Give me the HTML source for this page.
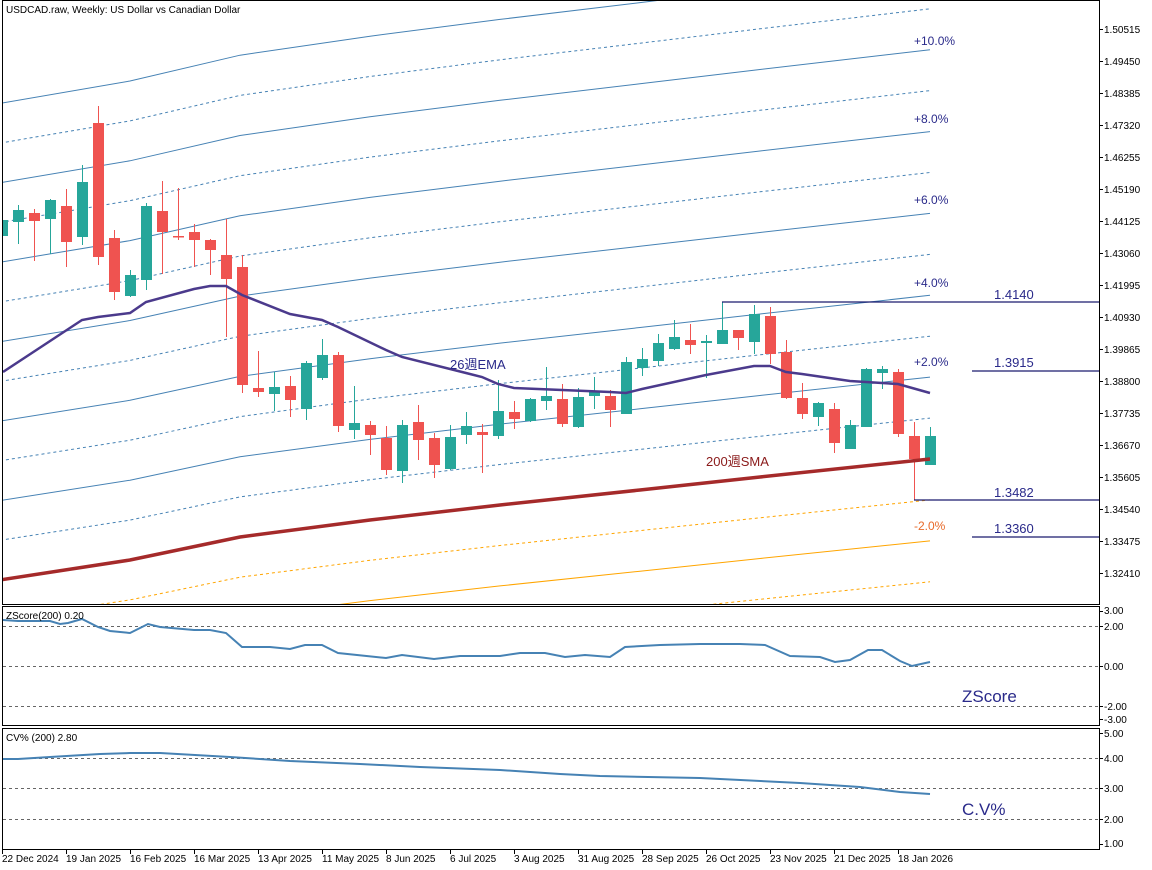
<!DOCTYPE html>
<html><head><meta charset="utf-8"><style>
html,body{margin:0;padding:0;background:#fff;}
svg{display:block;font-family:"Liberation Sans","Noto Sans CJK JP",sans-serif;}
</style></head><body>
<svg width="1152" height="870" xmlns="http://www.w3.org/2000/svg">
<defs><clipPath id="c"><rect x="3" y="1" width="1096" height="603"/></clipPath></defs>
<rect width="1152" height="870" fill="#fff"/>
<g clip-path="url(#c)" fill="none" stroke-width="1">
<g stroke="#4682b4">
<polyline points="0,540.3 130,520.1 240,496.9 370,479.7 500,464.5 640,449.4 760,436.3 930,418.1" stroke-dasharray="3,3"/>
<polyline points="0,500.6 130,480.2 240,456.7 370,439.4 500,424.1 640,408.8 760,395.5 930,377.1"/>
<polyline points="0,460.8 130,440.2 240,416.6 370,399 500,383.6 640,368.1 760,354.8 930,336.2" stroke-dasharray="3,3"/>
<polyline points="0,421.1 130,400.3 240,376.4 370,358.7 500,343.1 640,327.5 760,314 930,295.3"/>
<polyline points="0,381.4 130,360.4 240,336.3 370,318.4 500,302.7 640,286.9 760,273.3 930,254.4" stroke-dasharray="3,3"/>
<polyline points="0,341.7 130,320.5 240,296.1 370,278.1 500,262.2 640,246.3 760,232.5 930,213.4"/>
<polyline points="0,302 130,280.6 240,256 370,237.8 500,221.7 640,205.7 760,191.8 930,172.5" stroke-dasharray="3,3"/>
<polyline points="0,262.2 130,240.6 240,215.8 370,197.4 500,181.2 640,165 760,151 930,131.6"/>
<polyline points="0,222.5 130,200.7 240,175.7 370,157.1 500,140.8 640,124.4 760,110.3 930,90.6" stroke-dasharray="3,3"/>
<polyline points="0,182.8 130,160.8 240,135.5 370,116.8 500,100.3 640,83.8 760,69.5 930,49.7"/>
<polyline points="0,143.1 130,120.9 240,95.4 370,76.5 500,59.8 640,43.2 760,28.8 930,8.8" stroke-dasharray="3,3"/>
<polyline points="0,103.4 130,81 240,55.2 370,36.2 500,19.4 640,2.6 760,-12 930,-32"/>
</g>
<g stroke="#ffa500">
<polyline points="0,619.7 130,599.9 240,577.2 370,560.3 500,545.5 640,530.6 760,517.8 930,499.9" stroke-dasharray="3,3"/>
<polyline points="0,659 130,639.8 240,617.3 370,600.6 500,585.9 640,571.2 760,558.5 930,540.9"/>
<polyline points="0,699 130,679.8 240,657.5 370,641 500,626.4 640,611.9 760,599.3 930,581.8" stroke-dasharray="3,3"/>
</g>
</g>
<g clip-path="url(#c)">
<path stroke="#26a69a" stroke-width="1" fill="none" d="M18.5 205V244M50.5 199V254M82.5 165V245M130.5 270V297M146.5 203V290M274.5 372V411M306.5 361V420M322.5 339V380M354.5 386V439M402.5 420V483M450.5 425V470M466.5 412V444M498.5 380V439M530.5 398V422M546.5 367V410M578.5 388V428M594.5 377V409M626.5 357V414M642.5 348V376M658.5 334V366M674.5 320V350M706.5 335V378M722.5 302V344M754.5 305V354M818.5 402V426M850.5 420V449M866.5 368V427M882.5 366V389M930.5 427V465"/>
<path stroke="#ef5350" stroke-width="1" fill="none" d="M34.5 209V261M66.5 189V267M98.5 106V265M114.5 230V300M162.5 181V274M178.5 188V240M194.5 224V267M210.5 239V275M226.5 219V337M242.5 255V393M258.5 351V397M290.5 376V417M338.5 352V432M370.5 421V455M386.5 426V475M418.5 405V460M434.5 433V478M482.5 424V473M514.5 401V429M562.5 384V427M610.5 390V427M690.5 324V354M738.5 330V350M770.5 307V364M786.5 340V399M802.5 383V419M834.5 403V453M898.5 369V437M914.5 422V500"/>
<g fill="#26a69a">
<rect x="-3" y="220" width="11" height="16"/><rect x="13" y="210" width="11" height="12"/><rect x="45" y="200" width="11" height="19"/><rect x="77" y="182" width="11" height="55"/><rect x="125" y="275" width="11" height="21"/><rect x="141" y="206" width="11" height="74"/><rect x="269" y="387" width="11" height="7"/><rect x="301" y="363" width="11" height="46"/><rect x="317" y="355" width="11" height="23"/><rect x="349" y="423" width="11" height="7"/><rect x="397" y="425" width="11" height="46"/><rect x="445" y="437" width="11" height="32"/><rect x="461" y="426" width="11" height="9"/><rect x="493" y="411" width="11" height="25"/><rect x="525" y="399" width="11" height="22"/><rect x="541" y="396" width="11" height="5"/><rect x="573" y="397" width="11" height="30"/><rect x="589" y="391" width="11" height="5"/><rect x="621" y="362" width="11" height="52"/><rect x="637" y="359" width="11" height="9"/><rect x="653" y="343" width="11" height="18"/><rect x="669" y="337" width="11" height="12"/><rect x="701" y="341" width="11" height="2"/><rect x="717" y="330" width="11" height="14"/><rect x="749" y="314" width="11" height="28"/><rect x="813" y="403" width="11" height="14"/><rect x="845" y="425" width="11" height="24"/><rect x="861" y="369" width="11" height="58"/><rect x="877" y="369" width="11" height="4"/><rect x="925" y="436" width="11" height="29"/>
</g>
<g fill="#ef5350">
<rect x="29" y="213" width="11" height="8"/><rect x="61" y="206" width="11" height="36"/><rect x="93" y="123" width="11" height="134"/><rect x="109" y="238" width="11" height="54"/><rect x="157" y="211" width="11" height="21"/><rect x="173" y="236" width="11" height="1.5"/><rect x="189" y="232" width="11" height="8"/><rect x="205" y="240" width="11" height="10"/><rect x="221" y="255" width="11" height="24"/><rect x="237" y="267" width="11" height="118"/><rect x="253" y="388" width="11" height="4"/><rect x="285" y="386" width="11" height="14"/><rect x="333" y="355" width="11" height="71"/><rect x="365" y="425" width="11" height="10"/><rect x="381" y="438" width="11" height="32"/><rect x="413" y="422" width="11" height="18"/><rect x="429" y="438" width="11" height="27"/><rect x="477" y="432" width="11" height="3"/><rect x="509" y="412" width="11" height="7"/><rect x="557" y="399" width="11" height="25"/><rect x="605" y="396" width="11" height="14"/><rect x="685" y="340" width="11" height="5"/><rect x="733" y="330" width="11" height="8"/><rect x="765" y="316" width="11" height="38"/><rect x="781" y="352" width="11" height="46"/><rect x="797" y="398" width="11" height="16"/><rect x="829" y="409" width="11" height="34"/><rect x="893" y="372" width="11" height="62"/><rect x="909" y="436" width="11" height="23"/>
</g>
<polyline fill="none" stroke="#a52a2a" stroke-width="3.5" points="0,580 130,560 240,537 370,520 500,505 640,490 760,477 930,459"/>
<polyline fill="none" stroke="#4b3a8c" stroke-width="2.5" points="3,372 82,320 98,317 130,313 146,302 194,289 210,286 226,286 242,295 290,314 322,320 338,327 386,350 402,357 466,373 482,377 498,384 514,388 610,392 626,393 642,389 706,375 754,366 770,366 786,372 802,374 850,381 866,382 898,384 930,393"/>
</g>
<g font-size="10" fill="#000">
<text x="6" y="13">USDCAD.raw, Weekly:  US Dollar vs Canadian Dollar</text>
</g>
<g font-size="12" fill="#2a2a8a">
<text x="914" y="45">+10.0%</text>
<text x="914" y="123">+8.0%</text>
<text x="914" y="204">+6.0%</text>
<text x="914" y="287">+4.0%</text>
<text x="914" y="366">+2.0%</text>
<text x="914" y="530" fill="#e86a2a">-2.0%</text>
<text x="450" y="369" font-size="13">26週EMA</text>
<text x="706" y="466" font-size="13" fill="#8a1a1a">200週SMA</text>
<text x="994" y="299" font-size="13">1.4140</text>
<text x="994" y="367" font-size="13">1.3915</text>
<text x="994" y="497" font-size="13">1.3482</text>
<text x="994" y="533" font-size="13">1.3360</text>
<text x="962" y="702" font-size="17">ZScore</text>
<text x="962" y="815" font-size="17">C.V%</text>
</g>
<g stroke="#1a1a6e" stroke-width="1.2">
<line x1="722" y1="302" x2="1100" y2="302"/>
<line x1="972" y1="371" x2="1100" y2="371"/>
<line x1="914" y1="500" x2="1100" y2="500"/>
<line x1="972" y1="537" x2="1100" y2="537"/>
</g>
<g fill="none" stroke="#000" stroke-width="1">
<rect x="2.5" y="0.5" width="1097" height="604"/>
<rect x="2.5" y="606.5" width="1097" height="119"/>
<rect x="2.5" y="728.5" width="1097" height="121"/>
</g>
<g stroke="#666" stroke-dasharray="3,3" stroke-width="1">
<line x1="3" y1="626.5" x2="1099" y2="626.5"/><line x1="3" y1="666.5" x2="1099" y2="666.5"/><line x1="3" y1="706.5" x2="1099" y2="706.5"/>
<line x1="3" y1="758.5" x2="1099" y2="758.5"/><line x1="3" y1="788.5" x2="1099" y2="788.5"/><line x1="3" y1="819.5" x2="1099" y2="819.5"/>
</g>
<polyline fill="none" stroke="#4682b4" stroke-width="2" points="3,620 18,621 50,621 60,624 68,623 82,619 98,627 110,631 130,633 140,628 148,624 160,627 194,630 210,630 226,633 242,647 270,647 290,649 305,645 322,645 338,653 386,658 402,655 434,659 460,656 500,656 520,653 545,653 565,657 585,655 610,657 625,647 660,645 700,644 740,644 765,645 790,656 820,657 835,662 850,660 868,650 882,650 900,661 912,666 930,662"/>
<polyline fill="none" stroke="#4682b4" stroke-width="2" points="3,759 18,759 50,757 100,754 130,753 160,753 230,757 290,761 360,764 420,767 500,770 560,774 600,776 700,778 800,783 860,787 900,792 930,794"/>
<g font-size="10" fill="#000">
<text x="6" y="619">ZScore(200) 0.20</text>
<text x="6" y="741">CV% (200) 2.80</text>
</g>
<path stroke="#000" stroke-width="1" fill="none" d="M1100 29.5h3M1100 61.5h3M1100 93.5h3M1100 125.5h3M1100 157.5h3M1100 189.5h3M1100 221.5h3M1100 253.5h3M1100 285.5h3M1100 317.5h3M1100 349.5h3M1100 381.5h3M1100 413.5h3M1100 445.5h3M1100 477.5h3M1100 509.5h3M1100 541.5h3M1100 573.5h3M1100 611.5h3M1100 626.5h3M1100 666.5h3M1100 706.5h3M1100 719.5h3M1100 733.5h3M1100 758.5h3M1100 788.5h3M1100 819.5h3M1100 844.5h3M2.5 850v4M66.5 850v4M130.5 850v4M194.5 850v4M258.5 850v4M322.5 850v4M386.5 850v4M450.5 850v4M514.5 850v4M578.5 850v4M642.5 850v4M706.5 850v4M770.5 850v4M834.5 850v4M898.5 850v4"/>
<g font-size="10" fill="#000">
<text x="1104" y="614">3.00</text><text x="1104" y="630">2.00</text><text x="1104" y="670">0.00</text><text x="1104" y="710">-2.00</text><text x="1104" y="723">-3.00</text>
<text x="1104" y="737">5.00</text><text x="1104" y="762">4.00</text><text x="1104" y="792">3.00</text><text x="1104" y="823">2.00</text><text x="1104" y="847">1.00</text>
<text x="1104" y="33">1.50515</text><text x="1104" y="65">1.49450</text><text x="1104" y="97">1.48385</text><text x="1104" y="129">1.47320</text><text x="1104" y="161">1.46255</text><text x="1104" y="193">1.45190</text><text x="1104" y="225">1.44125</text><text x="1104" y="257">1.43060</text><text x="1104" y="289">1.41995</text><text x="1104" y="321">1.40930</text><text x="1104" y="353">1.39865</text><text x="1104" y="385">1.38800</text><text x="1104" y="417">1.37735</text><text x="1104" y="449">1.36670</text><text x="1104" y="481">1.35605</text><text x="1104" y="513">1.34540</text><text x="1104" y="545">1.33475</text><text x="1104" y="577">1.32410</text>
<text x="2" y="862">22 Dec 2024</text><text x="66" y="862">19 Jan 2025</text><text x="130" y="862">16 Feb 2025</text><text x="194" y="862">16 Mar 2025</text><text x="258" y="862">13 Apr 2025</text><text x="322" y="862">11 May 2025</text><text x="386" y="862">8 Jun 2025</text><text x="450" y="862">6 Jul 2025</text><text x="514" y="862">3 Aug 2025</text><text x="578" y="862">31 Aug 2025</text><text x="642" y="862">28 Sep 2025</text><text x="706" y="862">26 Oct 2025</text><text x="770" y="862">23 Nov 2025</text><text x="834" y="862">21 Dec 2025</text><text x="898" y="862">18 Jan 2026</text>
</g>
</svg>
</body></html>
